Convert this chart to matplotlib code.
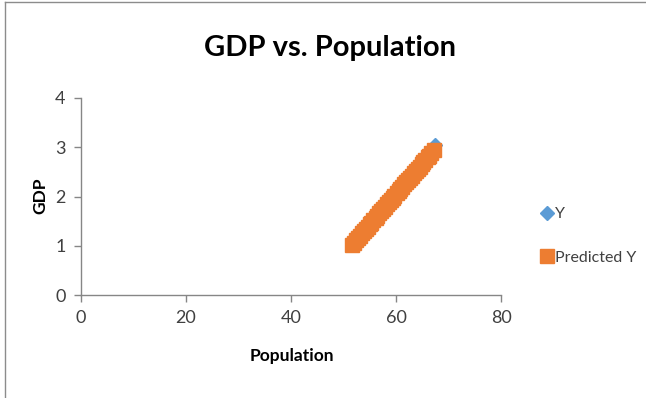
import matplotlib
matplotlib.use("Agg")
import matplotlib.pyplot as plt
from matplotlib.lines import Line2D

plt.rcParams['font.family'] = ['Lato', 'DejaVu Sans']

# Actual Y values
pop_actual = [51.8, 52.9, 53.7, 54.8, 55.6, 56.5, 57.3, 58.1, 58.9, 59.8,
              60.6, 61.0, 61.7, 62.6, 63.5, 64.3, 65.1, 65.9, 66.6, 67.4]
gdp_actual = [1.02, 1.20, 1.25, 1.43, 1.49, 1.63, 1.70, 1.83, 1.90, 2.05,
              2.12, 2.25, 2.24, 2.38, 2.47, 2.60, 2.66, 2.80, 2.86, 3.05]

# Predicted Y values
pop_pred = [51.6, 52.0, 52.4, 52.8, 53.1, 53.5, 53.9, 54.2, 54.6, 55.0,
            55.3, 55.7, 56.1, 56.4, 56.8, 57.2, 57.5, 57.9, 58.3, 58.6,
            59.0, 59.4, 59.7, 60.1, 60.5, 60.8, 61.2, 61.6, 61.9, 62.3,
            62.7, 63.0, 63.4, 63.8, 64.1, 64.5, 64.9, 65.2, 65.6, 66.0,
            66.3, 66.7, 67.2]
gdp_pred = [1.015, 1.064, 1.114, 1.163, 1.200, 1.249, 1.299, 1.336, 1.385, 1.435,
            1.472, 1.521, 1.570, 1.607, 1.657, 1.706, 1.743, 1.792, 1.842, 1.879,
            1.928, 1.978, 2.015, 2.064, 2.113, 2.150, 2.200, 2.249, 2.286, 2.335,
            2.385, 2.422, 2.471, 2.520, 2.558, 2.607, 2.656, 2.693, 2.743, 2.792,
            2.829, 2.878, 2.940]

x_ticks = [0, 20, 40, 60, 80]
y_ticks = [0, 1, 2, 3, 4]

BLUE = '#5B9BD5'
ORANGE = '#ED7D31'
GRAY = '#868686'
TXT = '#404040'

W, H = 646, 398
fig = plt.figure(figsize=(W / 100, H / 100), dpi=100)
ax = fig.add_axes([81 / W, 1 - 295 / H, 420 / W, 197 / H])

ax.plot(pop_actual, gdp_actual, linestyle='none', marker='D', markersize=7,
        color=BLUE, label='Y', zorder=3)
ax.plot(pop_pred, gdp_pred, linestyle='none', marker='s', markersize=9.5,
        color=ORANGE, label='Predicted Y', zorder=4)

ax.set_xlim(0, 80)
ax.set_ylim(0, 4)
ax.set_xticks(x_ticks)
ax.set_yticks(y_ticks)
ax.tick_params(direction='out', length=5, width=1, color=GRAY,
               labelsize=13, labelcolor=TXT, pad=6)
for s in ['top', 'right']:
    ax.spines[s].set_visible(False)
for s in ['left', 'bottom']:
    ax.spines[s].set_color(GRAY)
    ax.spines[s].set_linewidth(1)

fig.text(330 / W, 1 - 48 / H, 'GDP vs. Population', ha='center', va='center',
         fontsize=21, fontweight='bold', color='black')
fig.text(292 / W, 1 - 356 / H, 'Population', ha='center', va='center',
         fontsize=12.5, fontweight='bold', color='black')
fig.text(40 / W, 1 - 196 / H, 'GDP', ha='center', va='center', rotation=90,
         fontsize=12.5, fontweight='bold', color='black')

leg = ax.legend(loc='center left', bbox_to_anchor=(535 / W, 1 - 236 / H),
                bbox_transform=fig.transFigure, frameon=False,
                fontsize=11.5, handlelength=0.5, handletextpad=0.25,
                labelspacing=1.85, borderpad=0)
for t in leg.get_texts():
    t.set_color(TXT)

# outer frame (top and left edges visible)
fig.add_artist(Line2D([5 / W, 5 / W], [0, 1 - 2 / H], transform=fig.transFigure,
                      color='#8c8c8c', linewidth=1))
fig.add_artist(Line2D([5 / W, 1], [1 - 2 / H, 1 - 2 / H], transform=fig.transFigure,
                      color='#8c8c8c', linewidth=1))

fig.savefig('out.png', dpi=100, facecolor='white')
